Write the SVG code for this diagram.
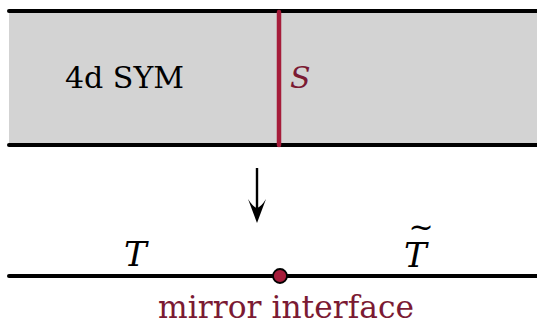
<svg xmlns="http://www.w3.org/2000/svg" width="537" height="326" viewBox="0 0 537 326">
<style>
.bl{stroke:#000;stroke-width:4;stroke-linecap:round;fill:none}
.t{font-family:'DejaVu Serif','Liberation Serif',serif;fill:#000}
.it{font-style:italic}
.red{fill:#7b1a33}
</style>
<g id="bulk">
<rect x="9" y="11" width="530" height="134" fill="#d3d3d3"/>
<line class="bl" x1="9" y1="11" x2="540" y2="11"/>
<line class="bl" x1="9" y1="145" x2="540" y2="145"/>
<text class="t" x="65" y="88" font-size="30" textLength="119" lengthAdjust="spacingAndGlyphs">4d SYM</text>
</g>
<g id="defect">
<line x1="279" y1="12" x2="279" y2="145" stroke="#a51c3a" stroke-width="4.5" stroke-linecap="round"/>
<text class="t it red" x="290" y="88" font-size="30">S</text>
</g>
<g id="connectors">
<line x1="257" y1="168" x2="257" y2="214" stroke="#000" stroke-width="2.4"/>
<path d="M257 223 L248 199 Q253 207 257 208 Q261 207 266 199 Z" fill="#000"/>
</g>
<g id="boundary">
<line class="bl" x1="9" y1="276" x2="540" y2="276"/>
<text class="t it" x="124" y="266" font-size="34">T</text>
<text class="t it" x="404" y="267" font-size="34">T<tspan x="421" y="237" font-size="30" font-style="normal" text-anchor="middle">~</tspan></text>
</g>
<g id="interface">
<circle cx="280" cy="276" r="7" fill="#a51c3a" stroke="#000" stroke-width="1.8"/>
<text class="t red" x="158" y="318" font-size="31" textLength="256" lengthAdjust="spacingAndGlyphs">mirror interface</text>
</g>
</svg>
